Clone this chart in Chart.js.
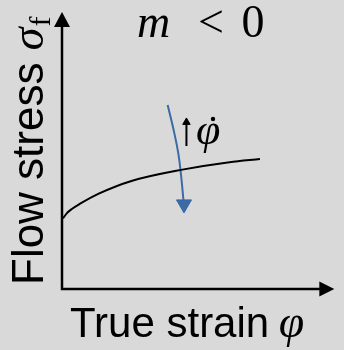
<!DOCTYPE html>
<html>
<head>
<meta charset="utf-8">
<script src="https://cdn.jsdelivr.net/npm/chart.js@4.4.1/dist/chart.umd.min.js"></script>
<style>
  html, body { margin: 0; padding: 0; background: #d9d9d9; }
  canvas { display: block; }
</style>
</head>
<body>
<canvas id="flowChart" width="344" height="350"></canvas>
<script>
// Flow curve as (strain, stress) in plot units, both axes run 0..10
const strain = [0.04, 0.18, 0.36, 0.65, 1.37, 2.55, 4.42, 6.15, 7.27];
const stress = [2.55, 2.74, 2.89, 3.07, 3.45, 3.90, 4.31, 4.58, 4.69];

// Blue arrow: flow stress drops as strain rate rises (m < 0)
const rateArrowX = [3.88, 4.10, 4.28, 4.39, 4.46, 4.48];
const rateArrowY = [6.64, 5.74, 4.84, 3.94, 3.21, 3.06];

// Small upward arrow beside the strain-rate symbol
const upArrowX = [4.57, 4.57];
const upArrowY = [5.16, 6.02];

const axisMin = 0;
const axisMax = 10;

const blue = '#3b6aa5';
const serif = "'Liberation Serif', 'DejaVu Serif', serif";
const sans = "'Liberation Sans', Arial, sans-serif";

const toPoints = (xs, ys) => xs.map((x, i) => ({ x, y: ys[i] }));
const lastOnly = (n, r) => (c) => (c.dataIndex === n - 1 ? r : 0);

// Axis lines with arrowheads along the chart area edges
const axesPlugin = {
  id: 'arrowAxes',
  beforeDatasetsDraw(chart) {
    const { ctx, chartArea: a } = chart;
    ctx.save();
    ctx.strokeStyle = '#000';
    ctx.fillStyle = '#000';
    ctx.lineWidth = 2.5;
    ctx.beginPath();
    ctx.moveTo(a.left, a.top + 14);
    ctx.lineTo(a.left, a.bottom);
    ctx.lineTo(a.right - 14, a.bottom);
    ctx.stroke();

    ctx.beginPath();
    ctx.moveTo(a.left, a.top);
    ctx.lineTo(a.left - 8, a.top + 15);
    ctx.lineTo(a.left + 8, a.top + 15);
    ctx.closePath();
    ctx.fill();

    ctx.beginPath();
    ctx.moveTo(a.right, a.bottom);
    ctx.lineTo(a.right - 15, a.bottom - 7.5);
    ctx.lineTo(a.right - 15, a.bottom + 7.5);
    ctx.closePath();
    ctx.fill();
    ctx.restore();
  }
};

// Axis titles, the m < 0 heading and the strain-rate symbol
const textPlugin = {
  id: 'diagramText',
  afterDraw(chart) {
    const { ctx } = chart;
    ctx.save();
    ctx.fillStyle = '#000';
    ctx.textBaseline = 'alphabetic';

    // heading
    ctx.font = `italic 46px ${serif}`;
    ctx.textAlign = 'left';
    ctx.fillText('m', 137, 37);
    ctx.font = `46px ${serif}`;
    ctx.textAlign = 'center';
    ctx.fillText('<', 211, 37);
    ctx.fillText('0', 253, 37);

    // strain rate symbol (phi with dot)
    ctx.textAlign = 'left';
    ctx.font = `italic 44px ${serif}`;
    ctx.fillText('\u03c6', 196, 144);
    ctx.beginPath();
    ctx.arc(213, 119, 2.2, 0, Math.PI * 2);
    ctx.fill();

    // x title
    ctx.font = `42px ${sans}`;
    ctx.fillText('True strain ', 70, 337);
    let w = ctx.measureText('True strain ').width;
    ctx.font = `italic 46px ${serif}`;
    ctx.fillText('\u03c6', 68 + w, 337);

    // y title, reading bottom to top
    ctx.translate(43, 285);
    ctx.rotate(-Math.PI / 2);
    ctx.font = `44px ${sans}`;
    ctx.fillText('Flow stress ', 0, 0);
    w = ctx.measureText('Flow stress ').width;
    ctx.font = `italic 46px ${serif}`;
    ctx.fillText('\u03c3', w, 0);
    const ws = ctx.measureText('\u03c3').width;
    ctx.font = `30px ${serif}`;
    ctx.fillText('f', w + ws + 1, 7);
    ctx.restore();
  }
};

new Chart(document.getElementById('flowChart'), {
  type: 'scatter',
  data: {
    datasets: [
      {
        data: toPoints(strain, stress),
        showLine: true,
        borderColor: '#000',
        borderWidth: 2,
        cubicInterpolationMode: 'monotone',
        pointRadius: 0
      },
      {
        data: toPoints(rateArrowX, rateArrowY),
        showLine: true,
        borderColor: blue,
        borderWidth: 2,
        tension: 0.4,
        pointStyle: 'triangle',
        rotation: 180,
        pointRadius: lastOnly(rateArrowX.length, 8.7),
        pointBackgroundColor: blue,
        pointBorderColor: blue,
        pointBorderWidth: 1
      },
      {
        data: toPoints(upArrowX, upArrowY),
        showLine: true,
        borderColor: '#000',
        borderWidth: 2,
        pointStyle: 'triangle',
        pointRadius: lastOnly(upArrowX.length, 4.3),
        pointBackgroundColor: '#000',
        pointBorderColor: '#000',
        pointBorderWidth: 1
      }
    ]
  },
  options: {
    responsive: false,
    animation: false,
    events: [],
    layout: { padding: { left: 62, right: 4, top: 12, bottom: 61 } },
    plugins: { legend: { display: false }, tooltip: { enabled: false } },
    scales: {
      x: { type: 'linear', min: axisMin, max: axisMax, display: false },
      y: { type: 'linear', min: axisMin, max: axisMax, display: false }
    }
  },
  plugins: [axesPlugin, textPlugin]
});
</script>
</body>
</html>
